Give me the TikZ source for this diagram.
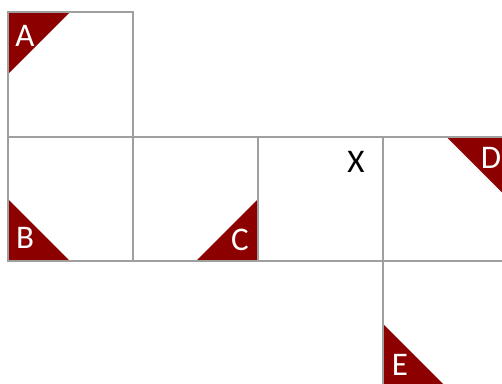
\documentclass[tikz,border=0pt]{standalone}
\usepackage{fontspec}
\setmainfont{Carlito}
\begin{document}
\begin{tikzpicture}[x=1pt,y=-1pt,
  cell/.style={draw=gray!75, line width=2pt},
  tri/.style={fill=red!55!black},
  lbl/.style={font=\fontsize{33}{33}\selectfont, text=white, inner sep=0pt, anchor=center},
  xlbl/.style={font=\fontsize{33}{33}\selectfont, text=black, inner sep=0pt, anchor=center}]
\useasboundingbox (0,0) rectangle (502,383);
\begin{scope}
\clip (0,0) rectangle (502,383);
% triangles
\fill[tri] (8,12) -- (70,12) -- (8,74) -- cycle;
\fill[tri] (8,261) -- (8,199) -- (70,261) -- cycle;
\fill[tri] (258,261) -- (258,199) -- (196,261) -- cycle;
\fill[tri] (508,136.5) -- (446,136.5) -- (508,198.5) -- cycle;
\fill[tri] (383,386) -- (383,324) -- (445,386) -- cycle;
% squares
\draw[cell] (8,12) rectangle (133,136.5);
\draw[cell] (8,136.5) rectangle (133,261);
\draw[cell] (133,136.5) rectangle (258,261);
\draw[cell] (258,136.5) rectangle (383,261);
\draw[cell] (383,136.5) rectangle (508,261);
\draw[cell] (383,261) rectangle (508,386);
\end{scope}
% labels
\node[lbl] (A) at (25,36) {A};
\node[lbl] (B) at (25,238) {B};
\node[lbl] (C) at (240,240) {C};
\node[xlbl] (X) at (356,162) {X};
\node[lbl] (D) at (491,158) {D};
\node[lbl] (E) at (400,365) {E};
\end{tikzpicture}
\end{document}
